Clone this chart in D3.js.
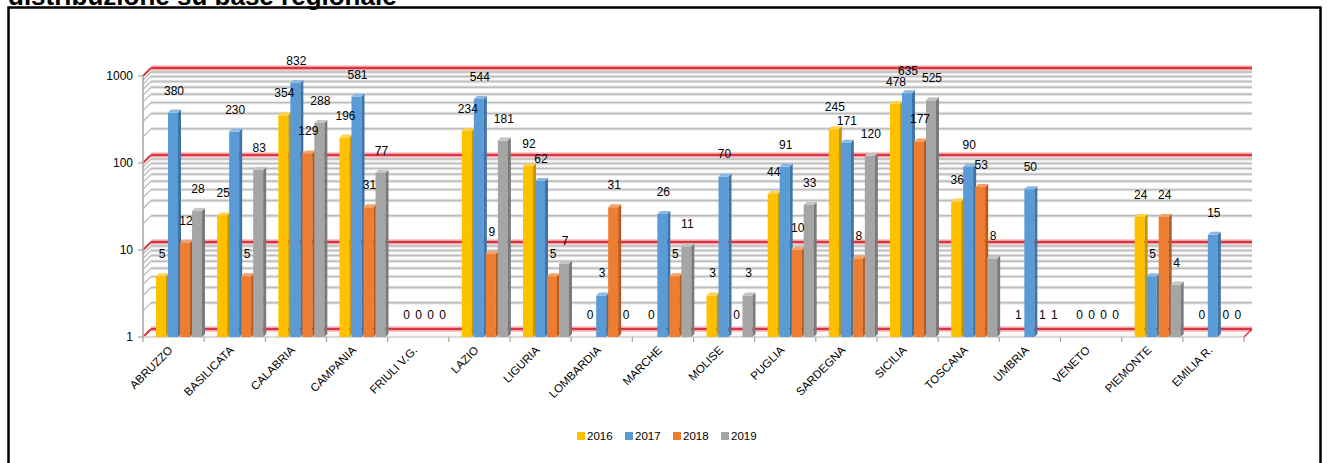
<!DOCTYPE html>
<html><head><meta charset="utf-8">
<script src="https://cdn.jsdelivr.net/npm/d3@7"></script>
<style>body{margin:0;background:#fff}svg{display:block}</style>
</head><body>
<svg id="c" width="1328" height="463"></svg>
<script>
const categories = ["ABRUZZO","BASILICATA","CALABRIA","CAMPANIA","FRIULI V.G.","LAZIO","LIGURIA","LOMBARDIA","MARCHE","MOLISE","PUGLIA","SARDEGNA","SICILIA","TOSCANA","UMBRIA","VENETO","PIEMONTE","EMILIA R."];
const seriesNames = ["2016","2017","2018","2019"];
const values2016 = [5,25,354,196,0,234,92,0,0,3,44,245,478,36,1,0,24,0];
const values2017 = [380,230,832,581,0,544,62,3,26,70,91,171,635,90,50,0,5,15];
const values2018 = [12,5,129,31,0,9,5,31,5,0,10,8,177,53,1,0,24,0];
const values2019 = [28,83,288,77,0,181,7,0,11,3,33,120,525,8,1,0,4,0];
const colors = ["#FFC000","#5B9BD5","#ED7D31","#A5A5A5"];
const sideColors = ["#C89500","#3F74A6","#B85A1E","#7A7A7A"];
const topColors = ["#FFD34D","#8BB9E3","#F4A06A","#C4C4C4"];
const yTicks = [1,10,100,1000];
const title = "distribuzione su base regionale";

const series = [values2016, values2017, values2018, values2019];
const svg = d3.select("#c");
const font = "'Liberation Sans', Arial, sans-serif";

// title & border
svg.append("text").attr("x",8).attr("y",5).attr("font-family",font).attr("font-weight","bold")
  .attr("font-size",26).attr("fill","#000").text(title);
svg.append("rect").attr("x",8.5).attr("y",7.5).attr("width",1312).attr("height",470)
  .attr("fill","none").attr("stroke","#000").attr("stroke-width",2.5);

const x0 = 143, x1 = 1244;
const y = d3.scaleLog().domain([1,1000]).range([337,76]);
const xb = d3.scaleBand().domain(categories).range([x0,x1]).padding(0);
const xs = d3.scaleBand().domain(seriesNames).range([13,61]).padding(0);
const DX = 8, DY = -8;

const g = svg.append("g");
// floor
g.append("polygon").attr("points",[[x0,337],[x1,337],[x1+DX,337+DY],[x0+DX,337+DY]].map(p=>p.join(",")).join(" "))
  .attr("fill","#fbf7f7").attr("stroke","none");

// gridlines (back wall + left wall)
const gridVals = [];
for (let d=1; d<1000; d*=10) for (let k=1;k<10;k++) gridVals.push(d*k);
gridVals.push(1000);
gridVals.forEach(v=>{
  const yy = y(v);
  const major = yTicks.includes(v);
  if (major) {
    g.append("line").attr("x1",x0+DX).attr("x2",x1+DX).attr("y1",yy+DY).attr("y2",yy+DY)
      .attr("stroke","#f5cdd1").attr("stroke-width",6);
    g.append("line").attr("x1",x0+DX).attr("x2",x1+DX).attr("y1",yy+DY).attr("y2",yy+DY)
      .attr("stroke","#d9343f").attr("stroke-width",2.5);
    g.append("line").attr("x1",x0).attr("x2",x0+DX).attr("y1",yy).attr("y2",yy+DY)
      .attr("stroke","#d9343f").attr("stroke-width",2);
  } else {
    g.append("line").attr("x1",x0+DX).attr("x2",x1+DX).attr("y1",yy+DY).attr("y2",yy+DY)
      .attr("stroke","#e6e6e6").attr("stroke-width",3.5);
    g.append("line").attr("x1",x0+DX).attr("x2",x1+DX).attr("y1",yy+DY).attr("y2",yy+DY)
      .attr("stroke","#bdbdbd").attr("stroke-width",1.4);
    g.append("line").attr("x1",x0).attr("x2",x0+DX).attr("y1",yy).attr("y2",yy+DY)
      .attr("stroke","#b8b8b8").attr("stroke-width",1.2);
  }
});
// floor front edge and right edge
g.append("line").attr("x1",x0).attr("x2",x1).attr("y1",337).attr("y2",337).attr("stroke","#cfcfcf").attr("stroke-width",1.5);
g.append("line").attr("x1",x1).attr("x2",x1+DX).attr("y1",337).attr("y2",337+DY).attr("stroke","#d9343f").attr("stroke-width",1.5);

// y axis
g.append("line").attr("x1",x0).attr("x2",x0).attr("y1",337).attr("y2",76).attr("stroke","#a6a6a6").attr("stroke-width",1.5);
yTicks.forEach(v=>{
  g.append("line").attr("x1",x0-5).attr("x2",x0).attr("y1",y(v)).attr("y2",y(v)).attr("stroke","#a6a6a6").attr("stroke-width",1.2);
  g.append("text").attr("x",x0-10).attr("y",y(v)).attr("dy","0.35em").attr("text-anchor","end")
    .attr("font-family",font).attr("font-size",12).attr("fill","#000").text(v);
});
// x ticks
d3.range(categories.length+1).forEach(i=>{
  const xx = x0 + i*xb.step();
  g.append("line").attr("x1",xx).attr("x2",xx).attr("y1",337).attr("y2",342).attr("stroke","#a6a6a6").attr("stroke-width",1.2);
});

// bars
const BW = 10, BD = 3;
series.forEach((vals,si)=>{
  vals.forEach((v,ci)=>{
    if (v <= 1) return;
    const bx = xb(categories[ci]) + xs(seriesNames[si]);
    const top = y(v), bot = 337;
    const bg = g.append("g");
    bg.append("rect").attr("x",bx).attr("y",top).attr("width",BW).attr("height",bot-top).attr("fill",colors[si]);
    bg.append("polygon").attr("points",[[bx+BW,top],[bx+BW+BD,top-BD],[bx+BW+BD,bot-BD],[bx+BW,bot]].map(p=>p.join(",")).join(" "))
      .attr("fill",sideColors[si]);
    bg.append("polygon").attr("points",[[bx,top],[bx+BD,top-BD],[bx+BW+BD,top-BD],[bx+BW,top]].map(p=>p.join(",")).join(" "))
      .attr("fill",topColors[si]);
  });
});
// labels
series.forEach((vals,si)=>{
  vals.forEach((v,ci)=>{
    const bx = xb(categories[ci]) + xs(seriesNames[si]);
    const yy = y(Math.max(v,1)) - 18;
    g.append("text").attr("x",bx+BW/2+1).attr("y",yy).attr("text-anchor","middle")
      .attr("font-family",font).attr("font-size",12).attr("fill","#000").text(v);
  });
});
// category labels
categories.forEach(c=>{
  const cx = xb(c) + xb.bandwidth()/2;
  g.append("text").attr("transform",`translate(${cx-3},348) rotate(-45)`).attr("dy","0.35em")
    .attr("text-anchor","end").attr("font-family",font).attr("font-size",11.5).attr("fill","#000").text(c);
});
// legend
const lg = svg.append("g");
const lx = [577,625,673,721];
seriesNames.forEach((s,i)=>{
  lg.append("rect").attr("x",lx[i]).attr("y",432).attr("width",8).attr("height",8).attr("fill",colors[i]);
  lg.append("text").attr("x",lx[i]+10).attr("y",436).attr("dy","0.35em").attr("font-family",font)
    .attr("font-size",11.5).attr("fill","#000").text(s);
});
</script>
</body></html>
